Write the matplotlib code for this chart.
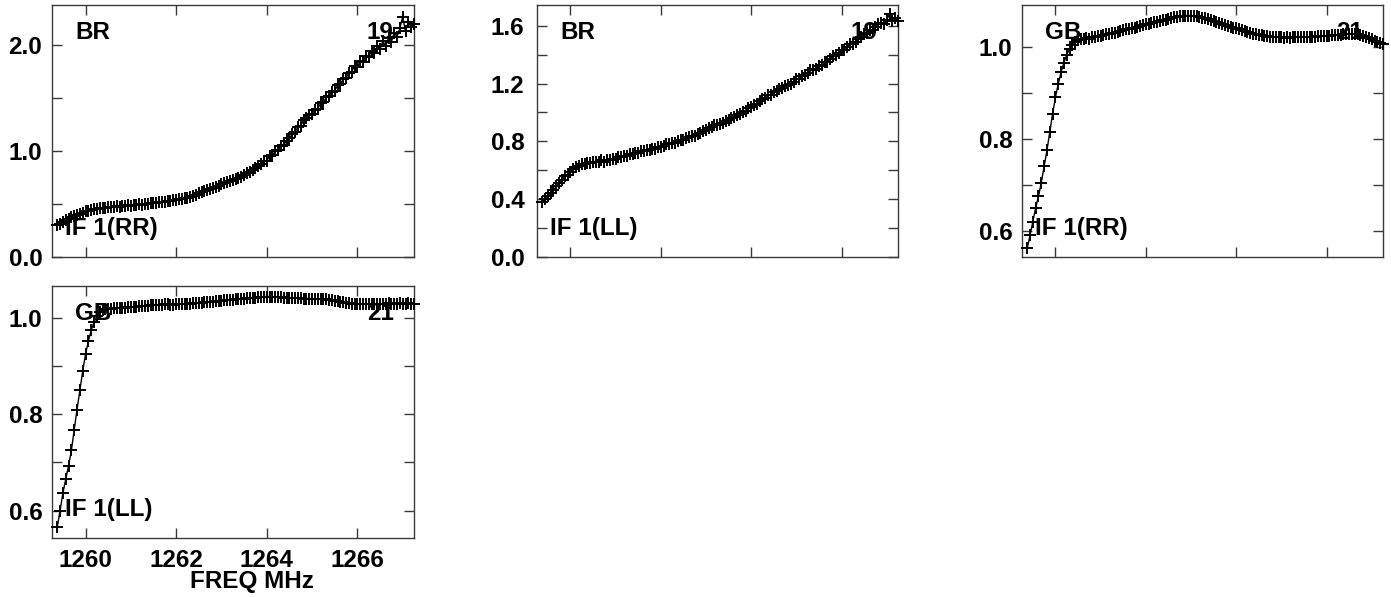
import numpy as np
import matplotlib
matplotlib.use("Agg")
import matplotlib.pyplot as plt

# ---------------- data ----------------
FREQ_START = 1259.375   # MHz, first channel
FREQ_STEP = 0.0625      # MHz per channel

br_rr = [0.30, 0.31, 0.33, 0.35, 0.36, 0.38, 0.39, 0.40,
         0.41, 0.42, 0.43, 0.43, 0.44, 0.45, 0.45, 0.46,
         0.46, 0.46, 0.47, 0.47, 0.47, 0.48, 0.47, 0.48,
         0.48, 0.49, 0.48, 0.49, 0.49, 0.50, 0.49, 0.50,
         0.50, 0.51, 0.51, 0.51, 0.52, 0.52, 0.52, 0.53,
         0.53, 0.54, 0.54, 0.55, 0.55, 0.56, 0.56, 0.57,
         0.58, 0.59, 0.60, 0.61, 0.62, 0.63, 0.64, 0.65,
         0.665, 0.67, 0.69, 0.70, 0.71, 0.72, 0.73, 0.74,
         0.75, 0.76, 0.77, 0.79, 0.80, 0.82, 0.84, 0.86,
         0.88, 0.91, 0.91, 0.95, 0.96, 1.00, 1.01, 1.05,
         1.06, 1.10, 1.12, 1.16, 1.18, 1.23, 1.24, 1.29,
         1.31, 1.34, 1.35, 1.39, 1.40, 1.45, 1.46, 1.51,
         1.52, 1.56, 1.57, 1.62, 1.63, 1.68, 1.69, 1.74,
         1.75, 1.80, 1.79, 1.85, 1.84, 1.90, 1.89, 1.95,
         1.93, 1.99, 1.96, 2.04, 1.99, 2.07, 2.03, 2.12,
         2.08, 2.16, 2.27, 2.13, 2.22, 2.17, 2.20]

br_ll = [0.38, 0.40, 0.42, 0.44, 0.46, 0.49, 0.51, 0.53,
         0.56, 0.57, 0.59, 0.61, 0.62, 0.63, 0.64, 0.64,
         0.65, 0.65, 0.66, 0.66, 0.66, 0.67, 0.66, 0.67,
         0.67, 0.68, 0.68, 0.69, 0.69, 0.70, 0.70, 0.71,
         0.71, 0.72, 0.72, 0.73, 0.73, 0.74, 0.74, 0.75,
         0.75, 0.76, 0.76, 0.77, 0.78, 0.78, 0.79, 0.79,
         0.80, 0.81, 0.81, 0.82, 0.83, 0.84, 0.84, 0.85,
         0.86, 0.87, 0.88, 0.89, 0.90, 0.91, 0.91, 0.92,
         0.93, 0.94, 0.95, 0.96, 0.97, 0.98, 0.99, 1.00,
         1.01, 1.03, 1.04, 1.05, 1.06, 1.08, 1.09, 1.10,
         1.12, 1.12, 1.14, 1.15, 1.16, 1.17, 1.18, 1.19,
         1.20, 1.21, 1.23, 1.23, 1.25, 1.26, 1.27, 1.29,
         1.29, 1.30, 1.32, 1.33, 1.35, 1.35, 1.37, 1.39,
         1.40, 1.41, 1.43, 1.43, 1.45, 1.47, 1.47, 1.49,
         1.51, 1.52, 1.54, 1.55, 1.57, 1.57, 1.59, 1.61,
         1.62, 1.61, 1.64, 1.68, 1.63, 1.65, 1.63]

gb_rr = [0.562, 0.590, 0.620, 0.650, 0.675, 0.705, 0.740, 0.775,
         0.815, 0.855, 0.890, 0.920, 0.945, 0.965, 0.983, 0.995,
         1.005, 1.011, 1.014, 1.016, 1.017, 1.019, 1.018, 1.021,
         1.022, 1.024, 1.023, 1.026, 1.027, 1.029, 1.030, 1.031,
         1.033, 1.035, 1.036, 1.038, 1.039, 1.041, 1.042, 1.044,
         1.046, 1.047, 1.049, 1.050, 1.052, 1.053, 1.055, 1.056,
         1.058, 1.059, 1.061, 1.062, 1.064, 1.065, 1.066, 1.067,
         1.068, 1.068, 1.068, 1.067, 1.066, 1.065, 1.063, 1.062,
         1.060, 1.058, 1.056, 1.054, 1.052, 1.050, 1.048, 1.046,
         1.044, 1.042, 1.040, 1.038, 1.036, 1.034, 1.032, 1.030,
         1.029, 1.027, 1.026, 1.025, 1.024, 1.023, 1.022, 1.022,
         1.021, 1.021, 1.021, 1.020, 1.021, 1.020, 1.021, 1.021,
         1.021, 1.021, 1.022, 1.021, 1.022, 1.022, 1.022, 1.023,
         1.023, 1.023, 1.024, 1.024, 1.025, 1.025, 1.026, 1.026,
         1.027, 1.027, 1.028, 1.028, 1.028, 1.027, 1.026, 1.024,
         1.021, 1.019, 1.016, 1.013, 1.011, 1.009, 1.007]

gb_ll = [0.565, 0.600, 0.636, 0.665, 0.693, 0.725, 0.768, 0.810,
         0.850, 0.890, 0.925, 0.952, 0.975, 0.992, 1.004, 1.012,
         1.017, 1.019, 1.020, 1.020, 1.021, 1.021, 1.022, 1.022,
         1.022, 1.023, 1.023, 1.024, 1.024, 1.025, 1.025, 1.026,
         1.026, 1.027, 1.027, 1.027, 1.028, 1.028, 1.029, 1.029,
         1.028, 1.028, 1.029, 1.029, 1.029, 1.030, 1.030, 1.030,
         1.031, 1.031, 1.032, 1.032, 1.033, 1.033, 1.034, 1.034,
         1.035, 1.035, 1.036, 1.037, 1.037, 1.038, 1.038, 1.039,
         1.040, 1.040, 1.041, 1.042, 1.042, 1.043, 1.043, 1.044,
         1.044, 1.045, 1.045, 1.045, 1.045, 1.044, 1.044, 1.044,
         1.043, 1.043, 1.043, 1.042, 1.042, 1.042, 1.042, 1.041,
         1.041, 1.041, 1.041, 1.040, 1.040, 1.040, 1.039, 1.039,
         1.038, 1.037, 1.036, 1.035, 1.034, 1.033, 1.032, 1.031,
         1.030, 1.029, 1.029, 1.029, 1.029, 1.029, 1.029, 1.030,
         1.030, 1.029, 1.030, 1.030, 1.030, 1.031, 1.030, 1.030,
         1.030, 1.031, 1.030, 1.030, 1.031, 1.030, 1.030]

stations = ["BR", "BR", "GB", "GB"]
pols = ["IF 1(RR)", "IF 1(LL)", "IF 1(RR)", "IF 1(LL)"]
antenna_numbers = ["19", "19", "21", "21"]

x_ticks = [1260, 1262, 1264, 1266]
x_ticklabels = ["1260", "1262", "1264", "1266"]
x_label = "FREQ MHz"

y_ticks = [[0.0, 0.5, 1.0, 1.5, 2.0],
           [0.0, 0.2, 0.4, 0.6, 0.8, 1.0, 1.2, 1.4, 1.6],
           [0.6, 0.7, 0.8, 0.9, 1.0],
           [0.6, 0.7, 0.8, 0.9, 1.0]]
y_ticklabels = [["0.0", "", "1.0", "", "2.0"],
                ["0.0", "", "0.4", "", "0.8", "", "1.2", "", "1.6"],
                ["0.6", "", "0.8", "", "1.0"],
                ["0.6", "", "0.8", "", "1.0"]]
y_limits = [(0.0, 2.38), (0.0, 1.743), (0.543, 1.091), (0.543, 1.067)]

series = [br_rr, br_ll, gb_rr, gb_ll]

# ---------------- figure ----------------
W, H = 1391, 597
fig = plt.figure(figsize=(W / 100, H / 100), dpi=100)
plt.rcParams["font.family"] = ["Liberation Sans", "DejaVu Sans"]

# axes rectangles in pixels: (left, top, right, bottom)
rects_px = [(52, 5, 414, 257), (537, 5, 898, 257),
            (1022, 5, 1383, 257), (52, 286, 414, 538)]

FRAME = "#3a3a3a"
FS = 17.5

for k, (vals, rp) in enumerate(zip(series, rects_px)):
    l, t, r, b = rp
    ax = fig.add_axes([l / W, 1 - b / H, (r - l) / W, (b - t) / H])
    freq = FREQ_START + FREQ_STEP * np.arange(len(vals))
    ax.plot(freq, vals, color="black", lw=1.0, marker="+", ms=8,
            mew=1.4, zorder=3, clip_on=False)
    ax.set_xlim(1259.26, 1267.25)
    ax.set_ylim(*y_limits[k])
    ax.set_xticks(x_ticks)
    if k == 3:
        ax.set_xticklabels(x_ticklabels)
    else:
        ax.set_xticklabels([])
    ax.set_yticks(y_ticks[k])
    ax.set_yticklabels(y_ticklabels[k])
    ax.tick_params(axis="both", which="both", direction="in", length=7,
                   width=1.0, color=FRAME, top=True, right=True,
                   labelsize=FS)
    ax.tick_params(axis="y", pad=9 if k == 1 else 7.0)
    ax.tick_params(axis="x", pad=8.0)
    for lab in ax.get_xticklabels() + ax.get_yticklabels():
        lab.set_fontweight("bold")
    for sp in ax.spines.values():
        sp.set_color(FRAME)
        sp.set_linewidth(1.0)

    ax.text(0.064, 0.866, stations[k], transform=ax.transAxes,
            fontsize=FS, fontweight="bold", ha="left", va="baseline", zorder=1)
    ax.text(0.944, 0.866, antenna_numbers[k], transform=ax.transAxes,
            fontsize=FS, fontweight="bold", ha="right", va="baseline", zorder=1)
    ax.text(0.036, 0.087, pols[k], transform=ax.transAxes,
            fontsize=FS, fontweight="bold", ha="left", va="baseline", zorder=1)

fig.text(252 / W, 1 - 588 / H, x_label, fontsize=FS, fontweight="bold",
         ha="center", va="baseline")

fig.savefig("out.png", dpi=100)
